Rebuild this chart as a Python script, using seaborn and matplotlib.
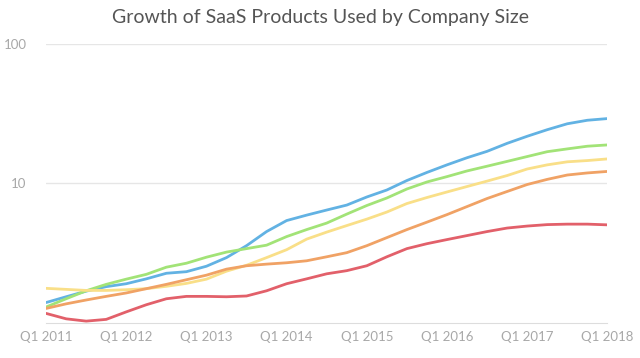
import pandas as pd
import seaborn as sns
import matplotlib.pyplot as plt
from matplotlib.ticker import FixedLocator, NullLocator

# quarterly readings, Q1 2011 .. Q1 2018
quarters = list(range(29))
tick_pos = [0, 4, 8, 12, 16, 20, 24, 28]
tick_labels = ["Q1 2011", "Q1 2012", "Q1 2013", "Q1 2014",
               "Q1 2015", "Q1 2016", "Q1 2017", "Q1 2018"]

blue = [1.40, 1.54, 1.69, 1.82, 1.91, 2.07, 2.27, 2.33, 2.55, 2.94,
        3.58, 4.52, 5.42, 5.93, 6.45, 7.00, 8.00, 8.98, 10.5, 12.0,
        13.6, 15.3, 17.0, 19.4, 21.8, 24.3, 26.8, 28.4, 29.2]
green = [1.30, 1.49, 1.70, 1.89, 2.06, 2.23, 2.51, 2.68, 2.96, 3.22,
         3.41, 3.61, 4.16, 4.67, 5.20, 6.03, 6.95, 7.87, 9.13, 10.25,
         11.2, 12.3, 13.3, 14.4, 15.6, 16.9, 17.7, 18.5, 18.9]
yellow = [1.77, 1.74, 1.71, 1.71, 1.73, 1.76, 1.83, 1.92, 2.06, 2.35,
          2.59, 2.94, 3.35, 3.99, 4.48, 4.99, 5.55, 6.24, 7.18, 7.93,
          8.69, 9.51, 10.4, 11.4, 12.7, 13.6, 14.3, 14.6, 15.0]
orange = [1.27, 1.37, 1.46, 1.55, 1.64, 1.76, 1.89, 2.04, 2.20, 2.43,
          2.57, 2.64, 2.70, 2.79, 2.98, 3.19, 3.58, 4.09, 4.67, 5.28,
          5.98, 6.83, 7.80, 8.76, 9.83, 10.7, 11.5, 11.9, 12.2]
red = [1.17, 1.07, 1.03, 1.06, 1.20, 1.35, 1.49, 1.55, 1.55, 1.54,
       1.56, 1.70, 1.91, 2.07, 2.25, 2.37, 2.57, 2.98, 3.41, 3.70,
       3.96, 4.23, 4.52, 4.79, 4.95, 5.07, 5.11, 5.11, 5.05]

series = {"blue": blue, "green": green, "yellow": yellow,
          "orange": orange, "red": red}
colors = {"blue": "#62b2e3", "green": "#a2e377", "yellow": "#f9df88",
          "orange": "#f0a265", "red": "#e2606a"}

rows = []
for name, vals in series.items():
    for q, v in zip(quarters, vals):
        rows.append({"quarter": q, "value": v, "size": name})
df = pd.DataFrame(rows)

sns.set_style("white")
plt.rcParams["font.family"] = ["Lato", "DejaVu Sans"]

fig = plt.figure(figsize=(6.4, 3.58), dpi=100)
ax = fig.add_axes([0.072, 0.098, 0.877, 0.779])

sns.lineplot(data=df, x="quarter", y="value", hue="size",
             palette=colors, linewidth=2.0, legend=False, ax=ax,
             solid_joinstyle="round", solid_capstyle="round")

ax.set_yscale("log")
ax.set_ylim(1, 100)
ax.set_xlim(0, 28)
ax.yaxis.set_major_locator(FixedLocator([10, 100]))
ax.yaxis.set_minor_locator(NullLocator())
ax.set_yticklabels(["10", "100"])
ax.set_xticks(tick_pos)
ax.set_xticklabels(tick_labels)
ax.tick_params(axis="both", length=0, labelsize=9.5, colors="#a8a8a8")
ax.tick_params(axis="y", pad=14)
ax.tick_params(axis="x", pad=6)
ax.grid(axis="y", color="#e6e6e6", linewidth=1)
ax.set_axisbelow(True)
for s in ["top", "right", "left"]:
    ax.spines[s].set_visible(False)
ax.spines["bottom"].set_color("#dddddd")
ax.set_xlabel("")
ax.set_ylabel("")

fig.text(0.5, 0.95, "Growth of SaaS Products Used by Company Size",
         ha="center", va="center", fontsize=14, color="#555555")

fig.savefig("out.png", dpi=100)
